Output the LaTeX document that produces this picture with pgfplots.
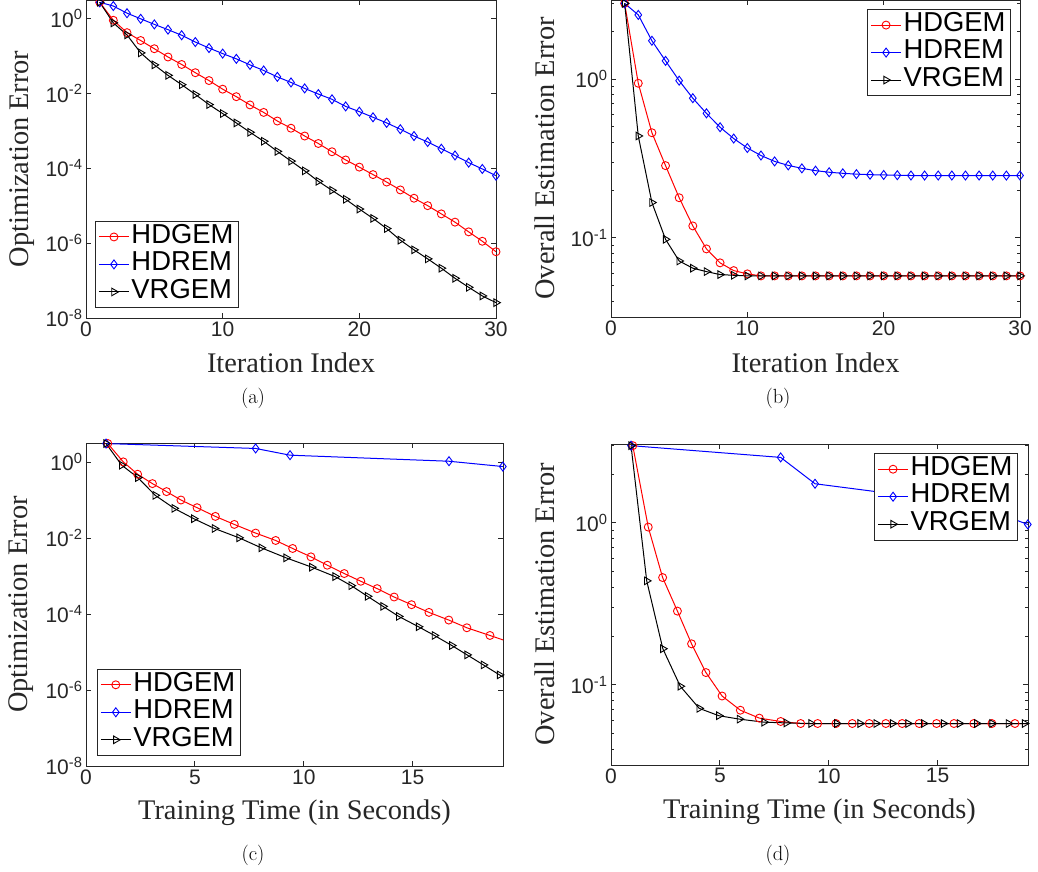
\documentclass[border=0pt]{standalone}
\usepackage{fontspec}
\usepackage{pgfplots}
\pgfplotsset{compat=1.18}
\newfontfamily\arialf{Liberation Sans}
\newfontfamily\timesf{Liberation Serif}
\definecolor{axgray}{gray}{0.15}
\newcommand\tp[1]{10\textsuperscript{#1}}

\pgfplotsset{
  mlab/.style={
    scale only axis,
    clip=true,
    axis line style={axgray, line width=0.9pt},
    every tick/.style={axgray, line width=0.9pt},
    major tick length=5pt, minor tick length=3pt,
    tick align=inside,
    ticklabel style={font=\arialf\fontsize{21}{21}\selectfont, text=axgray},
    label style={font=\timesf\fontsize{28.4}{28.4}\selectfont, text=axgray},
    xlabel style={anchor=base},
    ylabel style={anchor=center},
    legend style={font=\arialf\fontsize{27.4}{27.4}\selectfont, draw=axgray, line width=0.9pt,
      fill=white, inner xsep=3pt, inner ysep=2pt, row sep=0pt, cells={anchor=west},
      nodes={inner xsep=2pt, inner ysep=0pt, text height=20pt, text depth=7.5pt}},
    legend image code/.code={\draw[mark repeat=2,mark phase=2,##1] plot coordinates {(0pt,0pt) (15pt,0pt) (30pt,0pt)};},
  },
  hdg/.style={red, line width=1pt, mark=o, mark size=4pt, mark options={solid, line width=0.9pt}},
  hdr/.style={blue, line width=1pt, mark=diamond, mark size=4.5pt, mark options={solid, line width=0.9pt}},
  vrg/.style={black, line width=1pt, mark=triangle, mark size=4.4pt, mark options={solid, rotate=-90, line width=0.9pt}},
}

\begin{document}
\begin{tikzpicture}
\path[use as bounding box] (0pt,0pt) rectangle (1038pt,-871pt);

% ---------------- (a)
\begin{axis}[mlab, ymode=log, at={(86pt,-318pt)}, anchor=south west, width=410pt, height=318pt,
  xmin=0, xmax=30, ymin=1e-8, ymax=3.1,
  xtick={0,10,20,30}, xticklabels={0,10,20,30},
  ytick={1e-8,1e-6,1e-4,1e-2,1}, yticklabels={\tp{-8},\tp{-6},\tp{-4},\tp{-2},\tp{0}},
  minor ytick={},
  xlabel={Iteration Index}, ylabel={Optimization Error},
  xlabel style={at={(axis description cs:0.5,-0.170)}},
  ylabel style={at={(axis description cs:-0.156,0.5)}},
  legend style={at={(0.022,0.031)}, anchor=south west},
]
\addplot[hdg] coordinates {(1,2.7) (2,0.891) (3,0.417) (4,0.257) (5,0.155) (6,0.0933) (7,0.0589) (8,0.0355) (9,0.0219) (10,0.0129) (11,0.00813) (12,0.0049) (13,0.00309) (14,0.00182) (15,0.00117) (16,7.24e-4) (17,4.57e-4) (18,2.75e-4) (19,1.66e-4) (20,1.07e-4) (21,6.76e-5) (22,4.27e-5) (23,2.63e-5) (24,1.58e-5) (25,1.0e-5) (26,6.03e-6) (27,3.63e-6) (28,2.0e-6) (29,1.12e-6) (30,5.89e-7)};
\addplot[hdr] coordinates {(1,2.7) (2,2.14) (3,1.38) (4,0.977) (5,0.692) (6,0.501) (7,0.355) (8,0.234) (9,0.162) (10,0.115) (11,0.0832) (12,0.0575) (13,0.0407) (14,0.0275) (15,0.0195) (16,0.0135) (17,0.00955) (18,0.00692) (19,0.00447) (20,0.00324) (21,0.00229) (22,0.00162) (23,0.0011) (24,7.24e-4) (25,5.01e-4) (26,3.31e-4) (27,2.19e-4) (28,1.41e-4) (29,9.55e-5) (30,6.31e-5)};
\addplot[vrg] coordinates {(1,2.7) (2,0.759) (3,0.363) (4,0.120) (5,0.0575) (6,0.0302) (7,0.0170) (8,0.00933) (9,0.00501) (10,0.00288) (11,0.00162) (12,9.12e-4) (13,5.25e-4) (14,2.82e-4) (15,1.55e-4) (16,8.51e-5) (17,4.47e-5) (18,2.57e-5) (19,1.48e-5) (20,8.13e-6) (21,4.57e-6) (22,2.45e-6) (23,1.2e-6) (24,6.61e-7) (25,3.8e-7) (26,2.14e-7) (27,1.15e-7) (28,6.61e-8) (29,3.89e-8) (30,2.57e-8)};
\legend{HDGEM,HDREM,VRGEM}
\end{axis}

% ---------------- (b)
\begin{axis}[mlab, ymode=log, at={(611pt,-317pt)}, anchor=south west, width=409pt, height=317pt,
  xmin=0, xmax=30, ymin=0.0318, ymax=3.14,
  xtick={0,10,20,30}, xticklabels={0,10,20,30},
  ytick={0.1,1}, yticklabels={\tp{-1},\tp{0}},
  minor ytick={0.04,0.05,0.06,0.07,0.08,0.09,0.2,0.3,0.4,0.5,0.6,0.7,0.8,0.9,2,3},
  xlabel={Iteration Index}, ylabel={Overall Estimation Error},
  xlabel style={at={(axis description cs:0.5,-0.1735)}},
  ylabel style={at={(axis description cs:-0.161,0.5)}},
  legend style={at={(0.978,0.972)}, anchor=north east},
]
\addplot[hdg] coordinates {(1,2.99) (2,0.94) (3,0.459) (4,0.285) (5,0.179) (6,0.119) (7,0.0853) (8,0.0697) (9,0.0623) (10,0.0594) (11,0.0577) (12,0.0577) (13,0.0577) (14,0.0577) (15,0.0577) (16,0.0577) (17,0.0577) (18,0.0577) (19,0.0577) (20,0.0577) (21,0.0577) (22,0.0577) (23,0.0577) (24,0.0577) (25,0.0577) (26,0.0577) (27,0.0577) (28,0.0577) (29,0.0577) (30,0.0577)};
\addplot[hdr] coordinates {(1,2.99) (2,2.53) (3,1.74) (4,1.30) (5,0.976) (6,0.757) (7,0.608) (8,0.497) (9,0.422) (10,0.368) (11,0.330) (12,0.303) (13,0.286) (14,0.274) (15,0.265) (16,0.259) (17,0.255) (18,0.252) (19,0.250) (20,0.249) (21,0.248) (22,0.247) (23,0.247) (24,0.247) (25,0.247) (26,0.247) (27,0.247) (28,0.247) (29,0.247) (30,0.247)};
\addplot[vrg] coordinates {(1,2.99) (2,0.438) (3,0.167) (4,0.098) (5,0.0716) (6,0.0645) (7,0.0614) (8,0.0588) (9,0.0582) (10,0.0577) (11,0.0577) (12,0.0577) (13,0.0577) (14,0.0577) (15,0.0577) (16,0.0577) (17,0.0577) (18,0.0577) (19,0.0577) (20,0.0577) (21,0.0577) (22,0.0577) (23,0.0577) (24,0.0577) (25,0.0577) (26,0.0577) (27,0.0577) (28,0.0577) (29,0.0577) (30,0.0577)};
\legend{HDGEM,HDREM,VRGEM}
\end{axis}

% ---------------- (c)
\begin{axis}[mlab, ymode=log, at={(86pt,-766pt)}, anchor=south west, width=417pt, height=323pt,
  xmin=0, xmax=19.15, ymin=1e-8, ymax=3.2,
  xtick={0,5,10,15}, xticklabels={0,5,10,15},
  ytick={1e-8,1e-6,1e-4,1e-2,1}, yticklabels={\tp{-8},\tp{-6},\tp{-4},\tp{-2},\tp{0}},
  minor ytick={},
  xlabel={Training Time (in Seconds)}, ylabel={Optimization Error},
  xlabel style={at={(axis description cs:0.5,-0.167)}},
  ylabel style={at={(axis description cs:-0.156,0.5)}},
  legend style={at={(0.026,0.031)}, anchor=south west},
]
\addplot[hdg] coordinates {(1.0,3.1) (1.71,1.02) (2.37,0.482) (3.05,0.273) (3.70,0.168) (4.36,0.101) (5.10,0.0634) (5.94,0.0374) (6.81,0.0230) (7.79,0.0136) (8.71,0.00869) (9.49,0.00535) (10.33,0.00322) (11.08,0.00194) (11.86,0.00117) (12.62,7.33e-4) (13.37,4.69e-4) (14.15,2.82e-4) (14.95,1.77e-4) (15.75,1.11e-4) (16.66,6.97e-5) (17.49,4.37e-5) (18.55,2.74e-5) (19.55,1.75e-5)};
\addplot[hdr] coordinates {(0.92,3.1) (7.79,2.30) (9.37,1.53) (16.67,1.06) (19.14,0.769)};
\addplot[vrg] coordinates {(0.92,3.1) (1.64,0.834) (2.38,0.394) (3.18,0.134) (4.05,0.0609) (4.95,0.0325) (5.90,0.0180) (7.03,0.0102) (8.05,0.00557) (9.19,0.00303) (10.37,0.00172) (11.44,9.73e-4) (12.18,5.62e-4) (12.93,2.94e-4) (13.64,1.60e-4) (14.36,8.71e-5) (15.27,4.65e-5) (16.00,2.74e-5) (16.80,1.49e-5) (17.50,8.45e-6) (18.25,4.60e-6) (18.99,2.51e-6) (19.75,1.35e-6)};
\legend{HDGEM,HDREM,VRGEM}
\end{axis}

% ---------------- (d)
\begin{axis}[mlab, ymode=log, at={(611pt,-765pt)}, anchor=south west, width=417pt, height=321pt,
  xmin=0, xmax=19.15, ymin=0.032, ymax=3.06,
  xtick={0,5,10,15}, xticklabels={0,5,10,15},
  ytick={0.1,1}, yticklabels={\tp{-1},\tp{0}},
  minor ytick={0.04,0.05,0.06,0.07,0.08,0.09,0.2,0.3,0.4,0.5,0.6,0.7,0.8,0.9,2,3},
  xlabel={Training Time (in Seconds)}, ylabel={Overall Estimation Error},
  xlabel style={at={(axis description cs:0.5,-0.168)}},
  ylabel style={at={(axis description cs:-0.158,0.5)}},
  legend style={at={(0.976,0.972)}, anchor=north east},
]
\addplot[hdg] coordinates {(1.0,2.99) (1.71,0.94) (2.37,0.459) (3.05,0.285) (3.70,0.179) (4.36,0.119) (5.10,0.0853) (5.94,0.0697) (6.81,0.0623) (7.79,0.0594) (8.71,0.0577) (9.49,0.0577) (10.33,0.0577) (11.08,0.0577) (11.86,0.0577) (12.62,0.0577) (13.37,0.0577) (14.15,0.0577) (14.95,0.0577) (15.75,0.0577) (16.66,0.0577) (17.49,0.0577) (18.55,0.0577) (19.55,0.0577)};
\addplot[hdr] coordinates {(0.92,2.99) (7.79,2.53) (9.37,1.74) (16.67,1.30) (19.14,0.976)};
\addplot[vrg] coordinates {(0.92,2.99) (1.64,0.438) (2.38,0.167) (3.18,0.098) (4.05,0.0716) (4.95,0.0645) (5.90,0.0614) (7.03,0.0588) (8.05,0.0582) (9.19,0.0577) (10.37,0.0577) (11.44,0.0577) (12.18,0.0577) (12.93,0.0577) (13.64,0.0577) (14.36,0.0577) (15.27,0.0577) (16.00,0.0577) (16.80,0.0577) (17.50,0.0577) (18.25,0.0577) (18.99,0.0577) (19.75,0.0577)};
\legend{HDGEM,HDREM,VRGEM}
\end{axis}

\node[font=\fontsize{20.5}{20.5}\selectfont] at (253pt,-398pt) {(a)};
\node[font=\fontsize{20.5}{20.5}\selectfont] at (778pt,-398pt) {(b)};
\node[font=\fontsize{20.5}{20.5}\selectfont] at (253pt,-855pt) {(c)};
\node[font=\fontsize{20.5}{20.5}\selectfont] at (778pt,-855pt) {(d)};
\end{tikzpicture}
\end{document}
